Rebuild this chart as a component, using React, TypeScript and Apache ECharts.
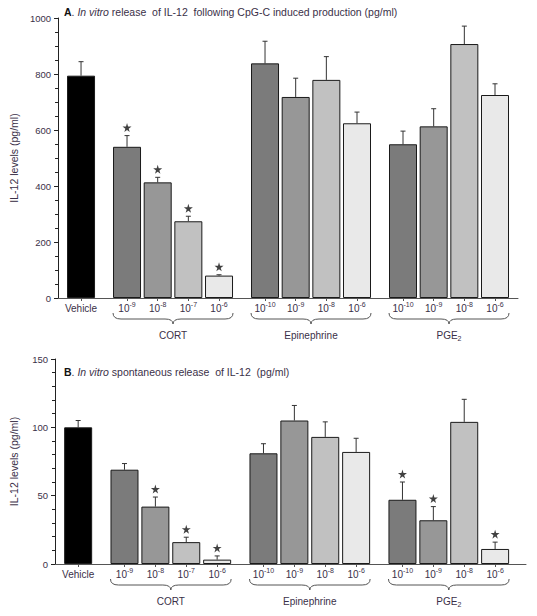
import React, { useEffect, useRef } from "react";
import * as echarts from "echarts";

// ---------------- data ----------------
const groupNames = ["Vehicle", "CORT", "Epinephrine", "PGE2"];
const groupDoseExponents: (string | null)[][] = [
  [null],
  ["-9", "-8", "-7", "-6"],
  ["-10", "-9", "-8", "-6"],
  ["-10", "-9", "-8", "-6"],
];

const yTicksA = [0, 200, 400, 600, 800, 1000];
const yTicksB = [0, 50, 100, 150];

// Panel A: in vitro release of IL-12 following CpG-C induced production (pg/ml)
const inducedMean = [794, 540, 413, 274, 80, 838, 718, 779, 624, 549, 613, 907, 725];
const inducedErr = [50, 40, 18, 18, 3, 79, 67, 83, 40, 47, 63, 64, 40];
const inducedSig = [0, 1, 1, 1, 1, 0, 0, 0, 0, 0, 0, 0, 0];

// Panel B: in vitro spontaneous release of IL-12 (pg/ml)
const spontMean = [100, 69, 42, 16, 3.2, 81, 105, 93, 82, 47, 32, 104, 11];
const spontErr = [5, 4.5, 7, 3.6, 2.7, 7, 11, 11, 10, 13, 10, 16.5, 5];
const spontSig = [0, 0, 1, 1, 1, 0, 0, 0, 0, 1, 1, 0, 1];

// ---------------- styles / layout ----------------
const FONT = "'Liberation Sans', Arial, sans-serif";
const TEXT = "#3a3048";
const VEHICLE_COLOR = "#000000";
const SHADES = ["#7b7b7b", "#979797", "#c1c1c1", "#e9e9e9"];
const GROUP_GAP = 0.5;
const BAR_W = 28;
const X_MIN = -0.75;

type Item = { pos: number; group: number; idx: number; exp: string | null };
const items: Item[] = [];
const groupSpans: { g: number; start: number; end: number }[] = [];
(() => {
  let cursor = 0;
  groupDoseExponents.forEach((exps, g) => {
    const start = cursor;
    exps.forEach((e, j) => {
      items.push({ pos: cursor, group: g, idx: j, exp: e });
      cursor += 1;
    });
    if (g > 0) groupSpans.push({ g, start, end: cursor - 1 });
    cursor += GROUP_GAP;
  });
})();
const positions = items.map((d) => d.pos);
const lastPos = positions[positions.length - 1];
const X_MAX_A = lastPos + 0.75;
const X_MAX_B = lastPos + 1.0;

const STAR =
  "path://M50,0 L61,35 L98,35 L68,57 L79,91 L50,70 L21,91 L32,57 L2,35 L39,35 Z";

function labelFor(value: number): string {
  const it = items.find((d) => Math.abs(d.pos - value) < 1e-6);
  if (!it) return "";
  if (it.exp === null) return "{v|" + groupNames[it.group] + "}";
  return "{b|10}{sup|" + it.exp + "}";
}

function groupLabel(name: string): string {
  return name.replace(/([A-Z])(\d+)$/, "$1{sub|$2}");
}

function buildPanel(
  k: number,
  means: number[],
  errs: number[],
  sig: number[],
  yMax: number,
  yTicks: number[],
  minorSplit: number,
  xMax: number
) {
  const interval = yTicks[1] - yTicks[0];
  const xAxis = {
    type: "value",
    gridIndex: k,
    min: X_MIN,
    max: xMax,
    splitLine: { show: false },
    axisLine: { show: true, onZero: false, lineStyle: { color: "#555", width: 1 } },
    axisTick: {
      show: true,
      customValues: positions,
      length: 3,
      lineStyle: { color: "#555" },
    },
    axisLabel: {
      show: true,
      customValues: positions,
      margin: 3,
      color: TEXT,
      fontFamily: FONT,
      fontSize: 10,
      formatter: (v: number) => labelFor(v),
      rich: {
        v: { fontSize: 10, fontFamily: FONT, color: TEXT, padding: [2, 0, 2, 0] },
        b: { fontSize: 10, fontFamily: FONT, color: TEXT },
        sup: { fontSize: 7, fontFamily: FONT, color: TEXT, padding: [0, 0, 8, 0] },
      },
    },
  };
  const yAxis = {
    type: "value",
    gridIndex: k,
    min: 0,
    max: yMax,
    interval,
    name: "IL-12 levels (pg/ml)",
    nameLocation: "middle",
    nameGap: 36,
    nameTextStyle: { fontSize: 10.5, color: TEXT, fontFamily: FONT },
    splitLine: { show: false },
    axisLine: { show: true, onZero: false, lineStyle: { color: "#222", width: 1 } },
    axisTick: { show: true, length: 4, lineStyle: { color: "#222" } },
    minorTick: { show: true, splitNumber: minorSplit, length: 3, lineStyle: { color: "#222" } },
    axisLabel: {
      fontSize: 9.5,
      color: TEXT,
      fontFamily: FONT,
      margin: 7,
      formatter: (v: number) => String(v),
    },
  };

  const barData = items.map((it, i) => ({
    value: [it.pos, means[i]],
    itemStyle: { color: it.group === 0 ? VEHICLE_COLOR : SHADES[it.idx] },
  }));

  const series: any[] = [
    {
      type: "bar",
      xAxisIndex: k,
      yAxisIndex: k,
      barWidth: BAR_W,
      data: barData,
      itemStyle: { borderColor: "#1a1a1a", borderWidth: 1 },
      z: 2,
    },
    {
      type: "custom",
      xAxisIndex: k,
      yAxisIndex: k,
      z: 1,
      clip: false,
      data: items.map((it, i) => [it.pos, means[i], errs[i]]),
      renderItem: (params: any, api: any) => {
        const x = api.value(0);
        const y = api.value(1);
        const e = api.value(2);
        const p1 = api.coord([x, y]);
        const p2 = api.coord([x, y + e]);
        const st = { stroke: "#333", lineWidth: 1 };
        return {
          type: "group",
          children: [
            { type: "line", shape: { x1: p1[0], y1: p1[1], x2: p2[0], y2: p2[1] }, style: st },
            { type: "line", shape: { x1: p2[0] - 2.5, y1: p2[1], x2: p2[0] + 2.5, y2: p2[1] }, style: st },
          ],
        };
      },
    },
    {
      type: "scatter",
      xAxisIndex: k,
      yAxisIndex: k,
      symbol: STAR,
      symbolSize: 9,
      symbolOffset: [0, -8],
      itemStyle: { color: "#111" },
      z: 3,
      data: items
        .map((it, i) => (sig[i] ? [it.pos, means[i] + errs[i]] : null))
        .filter((d) => d !== null),
    },
    {
      type: "custom",
      xAxisIndex: k,
      yAxisIndex: k,
      clip: false,
      z: 3,
      data: groupSpans.map((s) => [s.start, s.end, s.g]),
      renderItem: (params: any, api: any) => {
        const c1 = api.coord([api.value(0), 0]);
        const c2 = api.coord([api.value(1), 0]);
        const g = api.value(2);
        const x1 = c1[0] - BAR_W / 2;
        const x2 = c2[0] + BAR_W / 2;
        const xm = (x1 + x2) / 2;
        const y0 = c1[1] + 15;
        const yh = y0 + 6;
        const yt = yh + 5;
        const r = 8;
        const d =
          `M${x1},${y0} Q${x1},${yh} ${x1 + r},${yh} L${xm - r},${yh} Q${xm},${yh} ${xm},${yt} ` +
          `Q${xm},${yh} ${xm + r},${yh} L${x2 - r},${yh} Q${x2},${yh} ${x2},${y0}`;
        return {
          type: "group",
          children: [
            {
              type: "path",
              shape: { pathData: d },
              style: { fill: "none", stroke: "#555", lineWidth: 1 },
            },
            {
              type: "text",
              style: {
                text: groupLabel(groupNames[g]),
                x: xm,
                y: c1[1] + 37,
                align: "center",
                verticalAlign: "middle",
                fill: TEXT,
                fontSize: 10,
                fontFamily: FONT,
                rich: {
                  sub: { fontSize: 7, fontFamily: FONT, fill: TEXT, padding: [6, 0, 0, 0] },
                },
              },
            },
          ],
        };
      },
    },
  ];
  return { xAxis, yAxis, series };
}

export default function App() {
  const ref = useRef<HTMLDivElement>(null);
  useEffect(() => {
    if (!ref.current) return;
    const chart = echarts.init(ref.current, undefined, { renderer: "svg" });
    const a = buildPanel(0, inducedMean, inducedErr, inducedSig, 1000, yTicksA, 4, X_MAX_A);
    const b = buildPanel(1, spontMean, spontErr, spontSig, 150, yTicksB, 5, X_MAX_B);
    const titleStyle = (color: string) => ({
      fontSize: 10.5,
      fontWeight: "normal",
      color,
      fontFamily: FONT,
      rich: {
        b: { fontWeight: "bold", fontSize: 10.5, color: "#111", fontFamily: FONT },
        i: { fontStyle: "italic", fontSize: 10.5, color, fontFamily: FONT },
      },
    });
    chart.setOption({
      animation: false,
      backgroundColor: "#ffffff",
      title: [
        {
          left: 64,
          top: 6,
          padding: 0,
          text: "{b|A}. {i|In vitro} release  of IL-12  following CpG-C induced production (pg/ml)",
          textStyle: titleStyle(TEXT),
        },
        {
          left: 64,
          top: 366,
          padding: 0,
          text: "{b|B}. {i|In vitro} spontaneous release  of IL-12  (pg/ml)",
          textStyle: titleStyle(TEXT),
        },
      ],
      grid: [
        { left: 54, right: 19, top: 18, height: 280 },
        { left: 55, right: 11, top: 359, height: 205 },
      ],
      xAxis: [a.xAxis, b.xAxis],
      yAxis: [a.yAxis, b.yAxis],
      series: [...a.series, ...b.series],
    });
    return () => chart.dispose();
  }, []);
  return (
    <div
      ref={ref}
      style={{ position: "absolute", left: 0, top: 0, width: 537, height: 616, background: "#fff" }}
    />
  );
}
